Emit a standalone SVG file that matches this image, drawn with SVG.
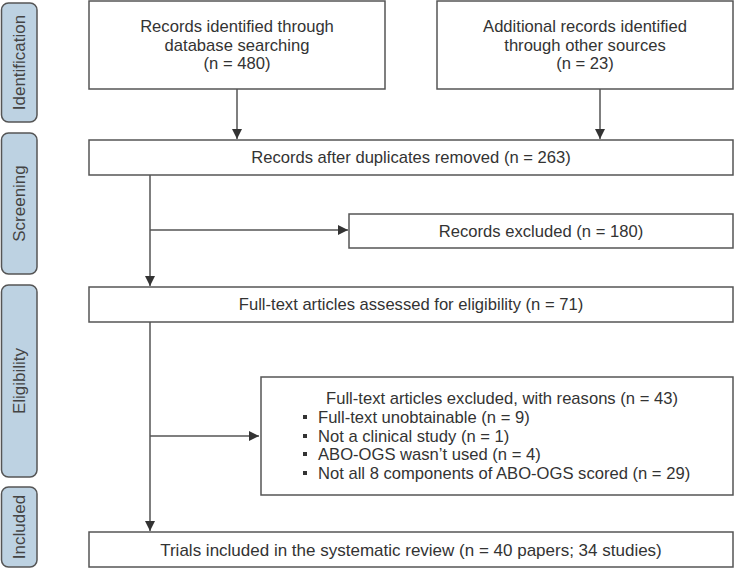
<svg xmlns="http://www.w3.org/2000/svg" width="735" height="569" viewBox="0 0 735 569">
<style>
.box{fill:#fff;stroke:#555;stroke-width:1.5}
.side{fill:#bdd2e2;stroke:#555;stroke-width:1.5}
.t{font-family:"Liberation Sans",Arial,sans-serif;font-size:16.6px;fill:#333;text-anchor:middle}
.tl{font-family:"Liberation Sans",Arial,sans-serif;font-size:16.6px;fill:#333}
.st{font-family:"Liberation Sans",Arial,sans-serif;font-size:17px;fill:#444;text-anchor:middle}
.c{stroke:#555;stroke-width:1.5;fill:none}
.b{fill:#333}
</style>
<defs>
<marker id="ah" viewBox="0 0 10 10" refX="10" refY="5" markerWidth="10" markerHeight="10" markerUnits="userSpaceOnUse" orient="auto">
<path d="M0,0 L10,5 L0,10 Z" fill="#333"/>
</marker>
</defs>
<g id="stage-identification">
<rect class="side" x="1.5" y="3" width="35.5" height="119" rx="7"/>
<text class="st" transform="translate(25,62.5) rotate(-90)">Identification</text>
</g>
<g id="stage-screening">
<rect class="side" x="1.5" y="133" width="35.5" height="141" rx="7"/>
<text class="st" transform="translate(25,203.5) rotate(-90)">Screening</text>
</g>
<g id="stage-eligibility">
<rect class="side" x="1.5" y="285" width="35.5" height="192" rx="7"/>
<text class="st" transform="translate(25,381) rotate(-90)">Eligibility</text>
</g>
<g id="stage-included">
<rect class="side" x="1.5" y="487" width="35.5" height="80" rx="7"/>
<text class="st" transform="translate(25,527) rotate(-90)">Included</text>
</g>
<g id="box-database">
<rect class="box" x="89" y="1" width="296" height="88"/>
<text class="t" x="237" y="32">Records identified through</text>
<text class="t" x="237" y="50.5">database searching</text>
<text class="t" x="237" y="69">(n = 480)</text>
</g>
<g id="box-other">
<rect class="box" x="437" y="1" width="296" height="88"/>
<text class="t" x="585" y="32">Additional records identified</text>
<text class="t" x="585" y="50.5">through other sources</text>
<text class="t" x="585" y="69">(n = 23)</text>
</g>
<g id="box-duplicates">
<rect class="box" x="89" y="140" width="644" height="35"/>
<text class="t" x="411" y="163">Records after duplicates removed  (n = 263)</text>
</g>
<g id="box-excluded">
<rect class="box" x="349" y="214" width="384" height="34"/>
<text class="t" x="541" y="236.5">Records excluded (n = 180)</text>
</g>
<g id="box-fulltext">
<rect class="box" x="89" y="287" width="644" height="35"/>
<text class="t" x="411" y="310">Full-text articles assessed for eligibility (n = 71)</text>
</g>
<g id="box-reasons">
<rect class="box" x="261" y="377" width="472" height="118"/>
<text class="t" x="502" y="404">Full-text articles excluded, with reasons (n = 43)</text>
<rect class="b" x="303" y="415" width="4" height="4"/>
<text class="tl" x="318" y="423">Full-text unobtainable (n = 9)</text>
<rect class="b" x="303" y="434" width="4" height="4"/>
<text class="tl" x="318" y="442">Not a clinical study (n = 1)</text>
<rect class="b" x="303" y="452" width="4" height="4"/>
<text class="tl" x="318" y="460">ABO-OGS wasn’t used (n = 4)</text>
<rect class="b" x="303" y="471" width="4" height="4"/>
<text class="tl" x="318" y="479">Not all 8 components of ABO-OGS scored (n = 29)</text>
</g>
<g id="box-included">
<rect class="box" x="89" y="532" width="644" height="35"/>
<text class="t" x="411" y="555.5" style="font-size:17px">Trials included in the systematic review (n = 40 papers; 34 studies)</text>
</g>
<g id="connectors">
<line class="c" x1="237" y1="89" x2="237" y2="139" marker-end="url(#ah)"/>
<line class="c" x1="600" y1="89" x2="600" y2="139" marker-end="url(#ah)"/>
<line class="c" x1="150" y1="175" x2="150" y2="286" marker-end="url(#ah)"/>
<line class="c" x1="150" y1="230" x2="348" y2="230" marker-end="url(#ah)"/>
<line class="c" x1="150" y1="322" x2="150" y2="531" marker-end="url(#ah)"/>
<line class="c" x1="150" y1="436" x2="259" y2="436" marker-end="url(#ah)"/>
</g>
</svg>
